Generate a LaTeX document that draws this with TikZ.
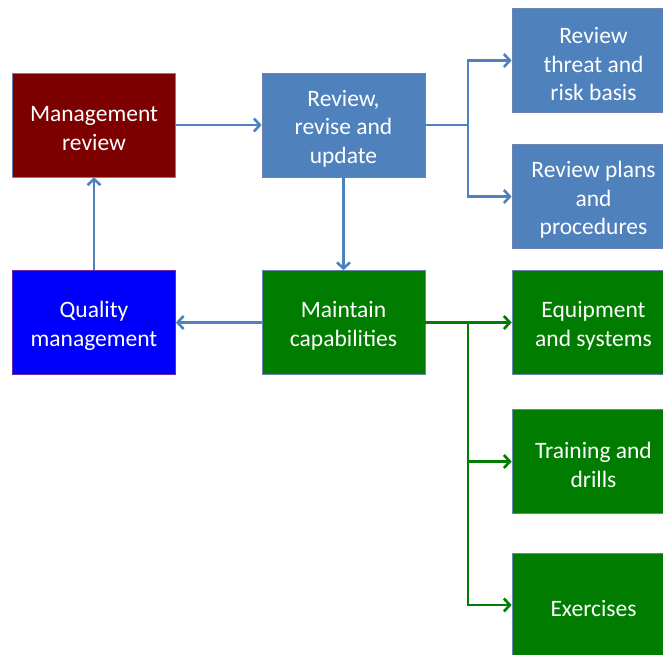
\documentclass[tikz,border=0pt]{standalone}
\usepackage{fontspec}
\setmainfont{Carlito}
\usetikzlibrary{arrows.meta}
\definecolor{boxblue}{RGB}{79,129,189}
\definecolor{boxred}{RGB}{124,0,0}
\definecolor{boxgreen}{RGB}{0,125,0}
\definecolor{pureblue}{RGB}{0,0,250}
\definecolor{edge}{RGB}{110,130,175}
\tikzset{
  stepbox/.style={rectangle, minimum width=163pt, minimum height=104pt,
    inner sep=0pt, draw=edge, line width=0.7pt},
  boxtext/.style={align=center, text=white, inner sep=0pt, yshift=-3.5pt,
    font=\fontsize{23.5}{28.5}\selectfont},
  bluebox/.style={stepbox, fill=boxblue},
  redbox/.style={stepbox, fill=boxred},
  greenbox/.style={stepbox, fill=boxgreen},
  qualbox/.style={stepbox, fill=pureblue, draw={rgb,255:red,110;green,40;blue,170}},
  trunk/.style={line width=2.9pt, line cap=butt},
  flow/.style={trunk, -{Straight Barb[length=6pt,width=13pt,line width=2.6pt]}},
  blueflow/.style={flow, draw=boxblue},
  greenflow/.style={flow, draw=boxgreen},
}
\begin{document}
\begin{tikzpicture}[x=1pt,y=-1pt]
  \useasboundingbox (0,0) rectangle (663,654);

  % left column
  \node[redbox, label={[boxtext]center:Management\\review}] (mgmt) at (94,125) {};
  \node[qualbox, label={[boxtext]center:Quality\\management}] (qual) at (94,322.5) {};

  % middle column
  \node[bluebox, label={[boxtext]center:Review,\\revise and\\update}] (rev) at (343.5,125) {};
  \node[greenbox, label={[boxtext]center:Maintain\\capabilities}] (maint) at (343.5,322.5) {};

  % right column (runs off the page edge)
  \node[bluebox, label={[boxtext]center:Review\\threat and\\risk basis}] (threat) at (593.5,60.5) {};
  \node[bluebox, label={[boxtext]center:Review plans\\and\\procedures}] (plans) at (593.5,196.5) {};
  \node[greenbox, label={[boxtext]center:Equipment\\and systems}] (equip) at (593.5,322.5) {};
  \node[greenbox, label={[boxtext]center:Training and\\drills}] (train) at (593.5,461.5) {};
  \node[greenbox, label={[boxtext]center:Exercises}] (exer) at (593.5,605) {};

  % junction points of the branching connectors
  \coordinate (bj) at (468,125);
  \coordinate (gj) at (468,322.5);

  % review loop
  \draw[blueflow] (mgmt) -- (rev);
  \draw[blueflow] (rev) -- (maint);
  \draw[blueflow] (maint) -- (qual);
  \draw[blueflow] (qual) -- (mgmt);

  % review branches
  \draw[trunk, draw=boxblue] (rev.east) -- (bj);
  \draw[blueflow] (bj) |- (threat);
  \draw[blueflow] (bj) |- (plans);

  % capability branches
  \draw[trunk, draw=boxgreen] (maint.east) -- (gj);
  \draw[greenflow] (gj) |- (equip);
  \draw[greenflow] (gj) |- (train);
  \draw[greenflow] (gj) |- (exer);
\end{tikzpicture}
\end{document}
